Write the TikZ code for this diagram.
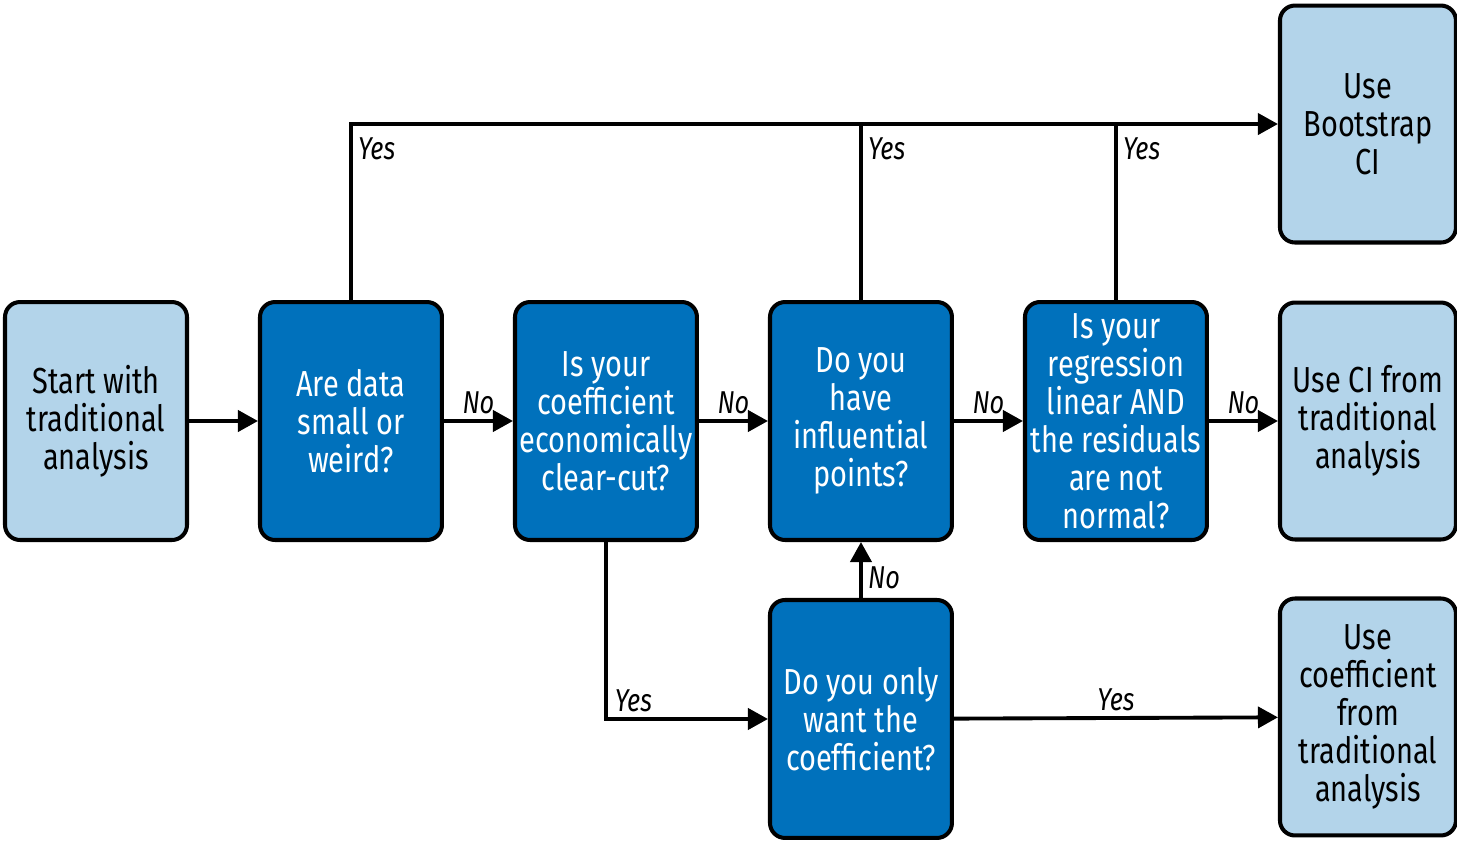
\documentclass[tikz,border=0pt]{standalone}
\usepackage{fontspec}
\setmainfont{Fira Sans}[FakeStretch=0.8]
\usepackage{xcolor}
\definecolor{lightbox}{HTML}{B3D4EA}
\definecolor{darkbox}{HTML}{0071BC}
\usetikzlibrary{arrows.meta,positioning}

\begin{document}
\begin{tikzpicture}[x=0.02cm,y=0.02cm,>={Triangle[length=0.4cm,width=0.42cm]},line width=2.2pt,node distance=1.38cm]
              \tikzstyle{box}=[draw=black,line width=2.3pt,rounded corners=0.3cm,minimum width=3.64cm,minimum height=4.76cm,align=center,inner sep=1pt,font=\fontsize{20.6}{21.6}\selectfont]
              \tikzstyle{start}=[box,fill=lightbox,text=black]
              \tikzstyle{ask}=[box,fill=darkbox,text=white]
              \tikzstyle{result}=[start,minimum width=3.52cm,minimum height=4.74cm]
              \tikzstyle{lbl}=[font=\itshape\fontsize{18}{20}\selectfont,inner sep=3pt]

              \useasboundingbox (0,0) rectangle (1457,-842);

              \node[start]  (start)                  at (96,-421) {Start with\\traditional\\analysis};
              \node[ask]    (small)    [right=of start]    {Are data\\small or\\weird?};
              \node[ask]    (clearcut) [right=of small]    {Is your\\coefficient\\economically\\clear-cut?};
              \node[ask]    (influ)    [right=of clearcut] {Do you\\have\\influential\\points?};
              \node[ask]    (normal)   [right=of influ]    {Is your\\regression\\linear AND\\the residuals\\are not\\normal?};
              \node[result] (ci)       [right=of normal]   {Use CI from\\traditional\\analysis};
              \node[result] (boot)     [above=1.12cm of ci] {Use\\Bootstrap\\CI};
              \node[result] (coef)     [below=1.1cm of ci] {Use\\coefficient\\from\\traditional\\analysis};
              \node[ask]    (only)     [below=1.12cm of influ] {Do you only\\want the\\coefficient?};

              \path  (start)    edge[->]                   (small)
                     (small)    edge[->] node[lbl,above] {No} (clearcut)
                     (clearcut) edge[->] node[lbl,above] {No} (influ)
                     (influ)    edge[->] node[lbl,above] {No} (normal)
                     (normal)   edge[->] node[lbl,above] {No} (ci)
                     (only)     edge[->] node[lbl,right,pos=0.36] {No} (influ)
                     (only)     edge[->] node[lbl,above] {Yes} (coef);

              % the three Yes branches meet on one line to the bootstrap box
              \draw[->] (small.north) -- node[lbl,right,pos=0.86] {Yes} (small.north |- boot.west) -- (boot.west);
              \draw (influ.north) -- node[lbl,right,pos=0.86] {Yes} (influ.north |- boot.west);
              \draw (normal.north) -- node[lbl,right,pos=0.86] {Yes} (normal.north |- boot.west);
              \draw[->] (clearcut.south) |- node[lbl,pos=0.5,anchor=south west,xshift=1pt] {Yes} (only.west);

       \end{tikzpicture}
\end{document}
